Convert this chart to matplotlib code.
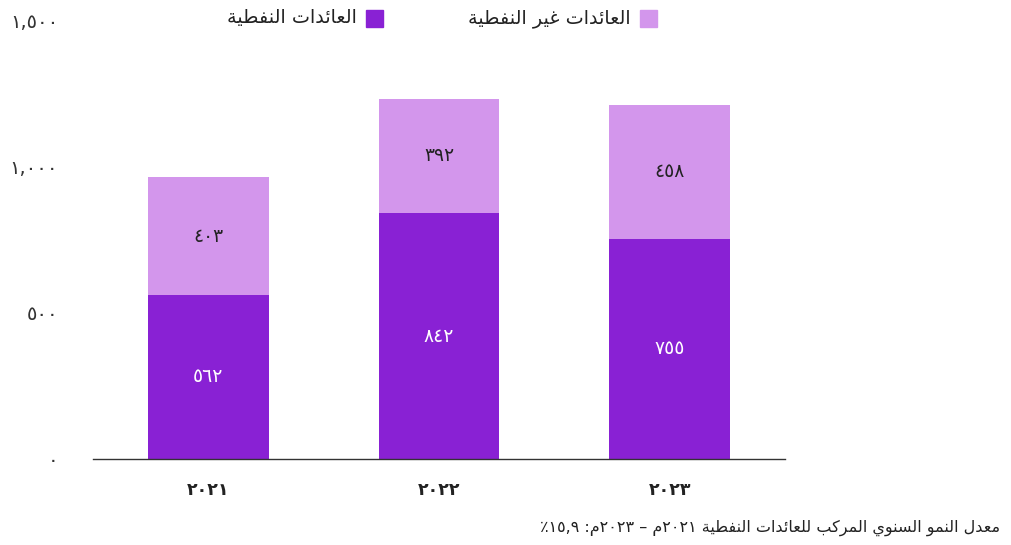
import re
import matplotlib
matplotlib.use("Agg")
import matplotlib.pyplot as plt
from matplotlib.patches import Rectangle
from matplotlib.ticker import FuncFormatter

# data
years = ["2021", "2022", "2023"]
oil = [562, 842, 755]
non_oil = [403, 392, 458]
oil_label = "العائدات النفطية"
non_oil_label = "العائدات غير النفطية"
footnote = "معدل النمو السنوي المركب للعائدات النفطية ٢٠٢١م – ٢٠٢٣م: ١٥,٩٪"

OIL_C = "#8921D4"
NON_OIL_C = "#D396EC"

## presentation forms: (isolated, final[, initial, medial])
FORMS = {
    'ا': ('\ufe8d', '\ufe8e'),
    'ئ': ('\ufe89', '\ufe8a', '\ufe8b', '\ufe8c'),
    'ب': ('\ufe8f', '\ufe90', '\ufe91', '\ufe92'),
    'ة': ('\ufe93', '\ufe94'),
    'ت': ('\ufe95', '\ufe96', '\ufe97', '\ufe98'),
    'د': ('\ufea9', '\ufeaa'),
    'ر': ('\ufead', '\ufeae'),
    'س': ('\ufeb1', '\ufeb2', '\ufeb3', '\ufeb4'),
    'ط': ('\ufec1', '\ufec2', '\ufec3', '\ufec4'),
    'ع': ('\ufec9', '\ufeca', '\ufecb', '\ufecc'),
    'غ': ('\ufecd', '\ufece', '\ufecf', '\ufed0'),
    'ف': ('\ufed1', '\ufed2', '\ufed3', '\ufed4'),
    'ك': ('\ufed9', '\ufeda', '\ufedb', '\ufedc'),
    'ل': ('\ufedd', '\ufede', '\ufedf', '\ufee0'),
    'م': ('\ufee1', '\ufee2', '\ufee3', '\ufee4'),
    'ن': ('\ufee5', '\ufee6', '\ufee7', '\ufee8'),
    'و': ('\ufeed', '\ufeee'),
    'ي': ('\ufef1', '\ufef2', '\ufef3', '\ufef4'),
}


def shape(text):
    out = []
    for i, ch in enumerate(text):
        if ch not in FORMS:
            out.append(ch)
            continue
        f = FORMS[ch]
        prev = text[i - 1] if i > 0 else ''
        nxt = text[i + 1] if i + 1 < len(text) else ''
        join_prev = prev in FORMS and len(FORMS[prev]) == 4
        join_next = len(f) == 4 and nxt in FORMS
        if join_prev and join_next:
            out.append(f[3])
        elif join_prev:
            out.append(f[1])
        elif join_next:
            out.append(f[2])
        else:
            out.append(f[0])
    return "".join(out)


def rtl(text):
    s = shape(text)[::-1]
    # numbers stay left to right
    return re.sub('[\u0660-\u0669][\u0660-\u0669,]*[\u0660-\u0669]|[\u0660-\u0669]',
                  lambda m: m.group(0)[::-1], s)


def ar_num(v):
    return str(v).translate(str.maketrans("0123456789", "٠١٢٣٤٥٦٧٨٩"))


plt.rcParams['font.family'] = ['DejaVu Sans']

fig = plt.figure(figsize=(10.11, 5.45), dpi=100)
W, H = 1011, 545
ax = fig.add_axes([93 / W, 1 - 459 / H, (785 - 93) / W, (459 - 21) / H])

x = range(len(years))
ax.bar(x, oil, width=0.524, color=OIL_C)
ax.bar(x, non_oil, bottom=oil, width=0.524, color=NON_OIL_C)

for i in x:
    ax.text(i, oil[i] / 2, ar_num(oil[i]), ha='center', va='center',
            color='white', fontsize=13.5)
    ax.text(i, oil[i] + non_oil[i] / 2, ar_num(non_oil[i]), ha='center',
            va='center', color='#222222', fontsize=13.5)

ax.set_xlim(-0.5, 2.5)
ax.set_ylim(0, 1500)
ax.set_yticks([0, 500, 1000, 1500])
ax.yaxis.set_major_formatter(FuncFormatter(lambda v, p: ar_num(f"{int(v):,}")))
ax.set_xticks(list(x))
ax.set_xticklabels([ar_num(y) for y in years], fontweight='bold')
ax.tick_params(axis='y', length=0, pad=25, labelsize=14, labelcolor='#333333')
ax.tick_params(axis='x', length=0, pad=16, labelsize=12.5, labelcolor='#222222')
for s in ['top', 'right', 'left']:
    ax.spines[s].set_visible(False)
ax.spines['bottom'].set_color('#333333')
ax.spines['bottom'].set_linewidth(1)

# legend, drawn by hand (right to left)
for sx, col, lab in [(640, NON_OIL_C, non_oil_label), (366, OIL_C, oil_label)]:
    fig.patches.append(Rectangle((sx / W, 1 - 27 / H), 17 / W, 17 / H,
                                 color=col, transform=fig.transFigure))
    fig.text((sx - 9) / W, 1 - 18 / H, rtl(lab), ha='right', va='center',
             fontsize=13.8, color='#222222')

fig.text(1000 / W, 1 - 528 / H, rtl(footnote), ha='right', va='center',
         fontsize=11.5, color='#222222')

fig.savefig("out.png", dpi=100)
